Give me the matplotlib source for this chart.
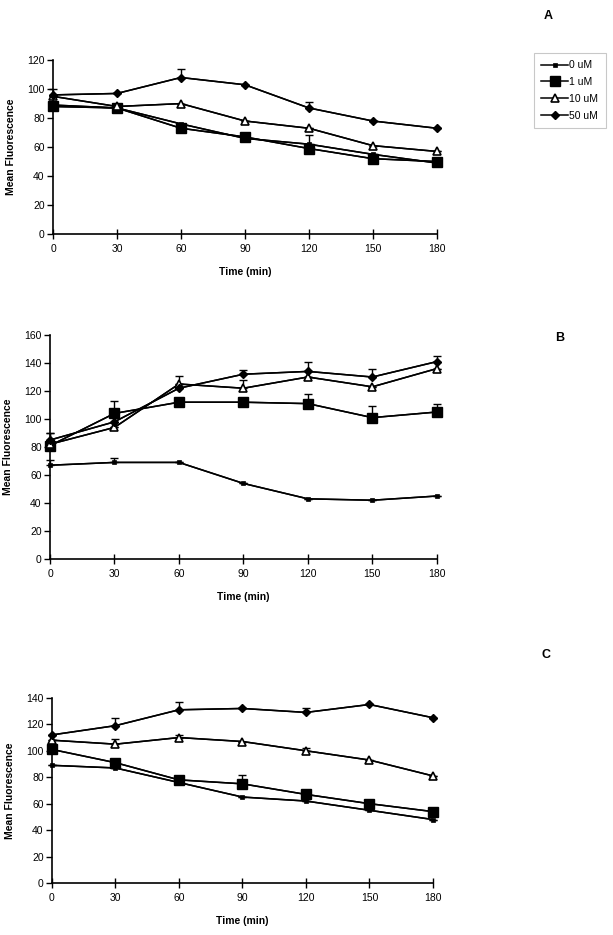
import numpy as np
import matplotlib
matplotlib.use("Agg")
import matplotlib.pyplot as plt

plt.rcParams["font.family"] = ["Liberation Sans", "DejaVu Sans"]

time = [0, 30, 60, 90, 120, 150, 180]
labels = ["0 uM", "1 uM", "10 uM", "50 uM"]

# panel A
a_0 = [89, 87, 76, 66, 62, 55, 49]
a_1 = [88, 87, 73, 67, 59, 52, 50]
a_10 = [95, 88, 90, 78, 73, 61, 57]
a_50 = [96, 97, 108, 103, 87, 78, 73]
a_err_0 = [0, 0, 0, 0, 6, 0, 0]
a_err_1 = [2, 0, 3, 0, 0, 0, 0]
a_err_10 = [0, 0, 0, 0, 0, 0, 0]
a_err_50 = [4, 0, 6, 0, 4, 0, 0]

# panel B
b_0 = [67, 69, 69, 54, 43, 42, 45]
b_1 = [81, 104, 112, 112, 111, 101, 105]
b_10 = [82, 94, 125, 122, 130, 123, 136]
b_50 = [85, 98, 122, 132, 134, 130, 141]
b_err_0 = [4, 3, 0, 0, 0, 0, 0]
b_err_1 = [9, 9, 0, 0, 7, 8, 6]
b_err_10 = [0, 0, 0, 6, 0, 0, 0]
b_err_50 = [5, 0, 9, 3, 7, 6, 4]

# panel C
c_0 = [89, 87, 76, 65, 62, 55, 48]
c_1 = [101, 91, 78, 75, 67, 60, 54]
c_10 = [108, 105, 110, 107, 100, 93, 81]
c_50 = [112, 119, 131, 132, 129, 135, 125]
c_err_0 = [0, 0, 0, 0, 0, 0, 0]
c_err_1 = [0, 0, 0, 7, 0, 0, 0]
c_err_10 = [0, 4, 2, 0, 2, 0, 0]
c_err_50 = [0, 6, 6, 0, 3, 0, 0]

panels = [
    ("A", [a_0, a_1, a_10, a_50], [a_err_0, a_err_1, a_err_10, a_err_50], 120,
     [0.0865, 0.7497, 0.626, 0.186]),
    ("B", [b_0, b_1, b_10, b_50], [b_err_0, b_err_1, b_err_10, b_err_50], 160,
     [0.0816, 0.4021, 0.631, 0.2396]),
    ("C", [c_0, c_1, c_10, c_50], [c_err_0, c_err_1, c_err_10, c_err_50], 140,
     [0.0848, 0.0556, 0.6215, 0.198]),
]
letter_pos = {"A": (0.894, 0.983), "B": (0.9135, 0.6385), "C": (0.891, 0.2995)}

styles = [
    dict(marker="s", ms=3.5, mfc="black", mec="black", markeredgewidth=0.5),
    dict(marker="s", ms=6.5, mfc="black", mec="black"),
    dict(marker="^", ms=5.5, mfc="white", mec="black", markeredgewidth=1.2),
    dict(marker="D", ms=4.3, mfc="black", mec="black"),
]

fig = plt.figure(figsize=(6.13, 9.35), dpi=100)

handles = None
for letter, series, errs, ytop, rect in panels:
    ax = fig.add_axes(rect)
    hs = []
    for vals, err, st, lbl in zip(series, errs, styles, labels):
        ax.errorbar(time, vals, yerr=[np.zeros(len(err)), err], color="black",
                    lw=1.1, capsize=3, elinewidth=1, capthick=1,
                    clip_on=False, zorder=3)
        h, = ax.plot(time, vals, color="black", lw=1.1, label=lbl,
                     clip_on=False, zorder=4, **st)
        hs.append(h)
    if handles is None:
        handles = hs
    ax.set_xlim(0, 180)
    ax.set_ylim(0, ytop)
    ax.set_xticks(time)
    ax.set_yticks(np.arange(0, ytop + 1, 20))
    for s in ["top", "right"]:
        ax.spines[s].set_visible(False)
    ax.spines["left"].set_linewidth(1.2)
    ax.spines["bottom"].set_linewidth(1.2)
    ax.tick_params(axis="x", direction="inout", length=7, width=1, labelsize=7.5, pad=4)
    ax.tick_params(axis="y", direction="out", length=4, width=1, labelsize=7.5, pad=2)
    ax.set_xlabel("Time (min)", fontsize=7.5, fontweight="bold", labelpad=9)
    ax.set_ylabel("Mean Fluorescence", fontsize=7.5, fontweight="bold", labelpad=8)
    fig.text(*letter_pos[letter], letter, fontsize=9, fontweight="bold",
             ha="center", va="center")

leg = fig.legend(handles=handles, loc="upper left", bbox_to_anchor=(0.871, 0.9433),
                 borderaxespad=0, fontsize=7.5, frameon=True, fancybox=False,
                 handlelength=2.6, handletextpad=0.1, labelspacing=0.65,
                 borderpad=0.7)
leg.get_frame().set_edgecolor("#bbbbbb")
leg.get_frame().set_linewidth(0.8)

fig.savefig("out.png", dpi=100)
